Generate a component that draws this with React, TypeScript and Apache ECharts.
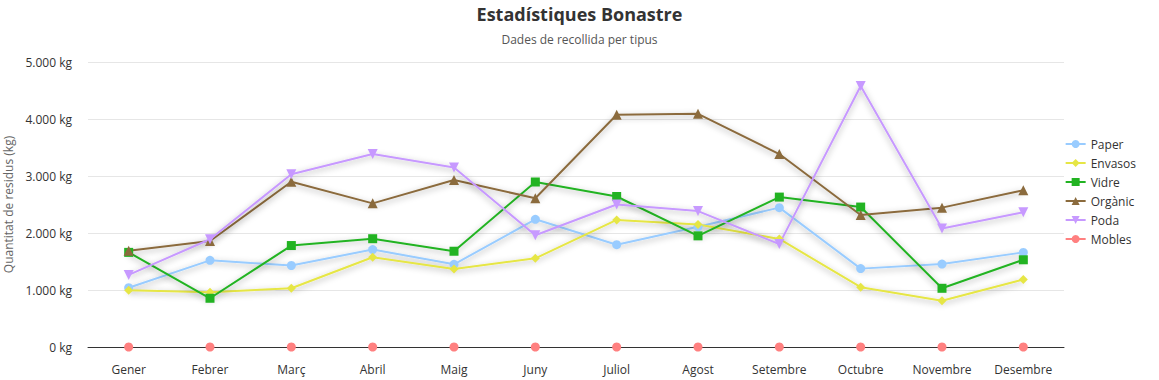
import React, { useEffect, useRef } from "react";
import * as echarts from "echarts";

const months = ["Gener", "Febrer", "Març", "Abril", "Maig", "Juny", "Juliol", "Agost", "Setembre", "Octubre", "Novembre", "Desembre"];
const paper = [1040, 1520, 1430, 1710, 1450, 2240, 1795, 2110, 2445, 1375, 1455, 1660];
const envasos = [995, 960, 1030, 1575, 1370, 1555, 2230, 2150, 1895, 1050, 810, 1185];
const vidre = [1660, 855, 1780, 1900, 1680, 2895, 2640, 1950, 2630, 2455, 1030, 1530];
const organic = [1690, 1860, 2900, 2520, 2930, 2610, 4075, 4090, 3385, 2315, 2445, 2750];
const poda = [1265, 1890, 3030, 3385, 3150, 1960, 2500, 2385, 1805, 4580, 2080, 2365];
const mobles = [0, 0, 0, 0, 0, 0, 0, 0, 0, 0, 0, 0];

const FONT = "'Open Sans', 'Noto Sans', sans-serif";

function fmt(v: number) {
  return v.toLocaleString("de-DE") + " kg";
}

export default function App() {
  const ref = useRef<HTMLDivElement>(null);
  useEffect(() => {
    document.body.style.margin = "0";
    if (!ref.current) return;
    const chart = echarts.init(ref.current, undefined, { renderer: "svg" });
    const mk = (name: string, data: number[], color: string, symbol: string, size: number) => ({
      name,
      type: "line",
      data,
      symbol,
      symbolSize: size,
      clip: false,
      z: 5,
      itemStyle: { color },
      lineStyle: {
        color,
        width: 2,
        shadowColor: "rgba(0,0,0,0.35)",
        shadowBlur: 6,
        shadowOffsetY: 2,
      },
    });
    chart.setOption({
      animation: false,
      textStyle: { fontFamily: FONT },
      title: {
        text: "Estadístiques Bonastre",
        subtext: "Dades de recollida per tipus",
        left: "center",
        top: 0,
        itemGap: 10,
        textStyle: { fontSize: 18, fontWeight: "bold", color: "#333", fontFamily: FONT },
        subtextStyle: { fontSize: 12, color: "#555", fontFamily: FONT },
      },
      legend: {
        orient: "vertical",
        right: 18,
        top: 133,
        itemWidth: 20,
        itemHeight: 10,
        itemGap: 7,
        textStyle: { fontSize: 12, color: "#333", fontFamily: FONT },
      },
      grid: { left: 88, right: 95, top: 62, bottom: 33, outerBoundsMode: "none", containLabel: false },
      xAxis: {
        type: "category",
        data: months,
        z: 0,
        axisTick: { show: false },
        axisLine: { lineStyle: { color: "#333" } },
        axisLabel: { color: "#333", fontSize: 12, margin: 16, fontFamily: FONT },
      },
      yAxis: {
        type: "value",
        min: 0,
        max: 5000,
        interval: 1000,
        z: 0,
        name: "Quantitat de residus (kg)",
        nameLocation: "middle",
        nameGap: 72,
        nameTextStyle: { color: "#666", fontSize: 12, fontFamily: FONT },
        axisLabel: { color: "#333", fontSize: 12, formatter: fmt, margin: 16, fontFamily: FONT },
        splitLine: { lineStyle: { color: "#e6e6e6" } },
      },
      series: [
        mk("Paper", paper, "#99ccff", "circle", 9),
        mk("Envasos", envasos, "#e6e645", "diamond", 9),
        mk("Vidre", vidre, "#22b322", "rect", 9),
        mk("Orgànic", organic, "#8b6b3d", "triangle", 10),
        { ...mk("Poda", poda, "#c799ff", "triangle", 10), symbolRotate: 180 },
        mk("Mobles", mobles, "#ff8080", "circle", 9),
      ],
    });
    return () => chart.dispose();
  }, []);
  return <div ref={ref} style={{ width: 1159, height: 380 }} />;
}
